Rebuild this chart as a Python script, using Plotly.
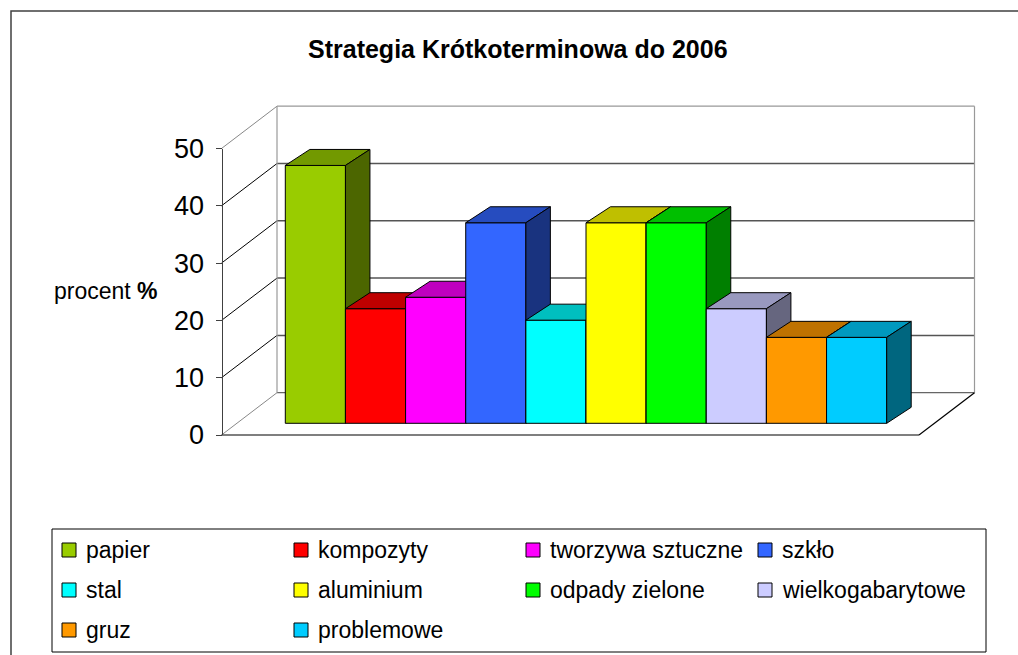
import plotly.graph_objects as go

# ---------------- data ----------------
categories = ["papier", "kompozyty", "tworzywa sztuczne", "szkło", "stal",
              "aluminium", "odpady zielone", "wielkogabarytowe", "gruz", "problemowe"]
values = [45, 20, 22, 35, 18, 35, 35, 20, 15, 15]
colors = ["#99CC00", "#FF0000", "#FF00FF", "#3366FF", "#00FFFF",
          "#FFFF00", "#00FF00", "#CCCCFF", "#FF9900", "#00CCFF"]
y_ticks = [0, 10, 20, 30, 40, 50]
title_text = "Strategia Krótkoterminowa do 2006"
y_label = "procent <b>%</b>"

# ---------------- geometry (pixel layout -> data units) ----------------
W, H = 1018, 655
BAR_LEFT_PX, CAT_PX = 285.3, 60.14      # first bar left edge, px per category
BASE_PX, UNIT_PX = 423.3, 5.73          # bar base line, px per value unit


def X(px):
    return (px - BAR_LEFT_PX) / CAT_PX


def Y(py):
    return (BASE_PX - py) / UNIT_PX


DX, DY = 24.5 / CAT_PX, 16.0 / UNIT_PX  # bar depth offset
FL, BL, FR, BR = X(221.5), X(277), X(919), X(974.5)   # floor corners (x)
F0, B0 = Y(435), Y(392.7)                              # floor front/back level
VMAX = max(y_ticks)
FONT = "Liberation Sans, Arial, sans-serif"


def shade(hexcol, f):
    h = hexcol.lstrip("#")
    r, g, b = (int(h[k:k + 2], 16) for k in (0, 2, 4))
    return "#%02X%02X%02X" % (int(r * f), int(g * f), int(b * f))


fig = go.Figure()

# dummy trace for the front value axis (added first so it sits underneath)
fig.add_trace(go.Scatter(x=[None], y=[None], xaxis="x2", yaxis="y2",
                         showlegend=False, hoverinfo="skip"))

# ---------------- bars (front, top, side faces) ----------------
for i, (name, v, c) in enumerate(zip(categories, values, colors)):
    x0, x1 = i, i + 1
    faces = [
        ([x0, x1, x1, x0, x0], [0, 0, v, v, 0], c),
        ([x0, x1, x1 + DX, x0 + DX, x0], [v, v, v + DY, v + DY, v], shade(c, 0.75)),
        ([x1, x1 + DX, x1 + DX, x1, x1], [0, DY, v + DY, v, 0], shade(c, 0.5)),
    ]
    for fx, fy, fc in faces:
        fig.add_trace(go.Scatter(
            x=fx, y=fy, mode="lines", fill="toself", fillcolor=fc,
            line=dict(color="#000000", width=1), name=name,
            showlegend=False, hoverinfo="skip"))

shapes = []


def line(x0, y0, x1, y1, color, width=1):
    return dict(type="line", x0=x0, y0=y0, x1=x1, y1=y1, xref="x", yref="y",
                line=dict(color=color, width=width), layer="below")


# back wall gridlines and frame, left wall diagonals
for v in y_ticks:
    if v == 0:
        col, wd = "#666666", 1.2
    elif v == VMAX:
        col, wd = "#999999", 1.2
    else:
        col, wd = "#555555", 1.5
    shapes.append(line(BL, B0 + v, BR, B0 + v, col, wd))
    dcol = "#000000" if 0 < v < VMAX else "#888888"
    shapes.append(line(FL, F0 + v, BL, B0 + v, dcol, 1))
shapes.append(line(BL, B0, BL, B0 + VMAX, "#999999", 1.2))
shapes.append(line(BR, B0, BR, B0 + VMAX, "#999999", 1.2))
# floor front and right edges
shapes.append(line(FL, F0, FR, F0, "#000000", 1.2))
shapes.append(line(FR, F0, BR, B0, "#000000", 1.2))

# outer chart border
shapes.append(dict(type="rect", xref="paper", yref="paper",
                   x0=11 / W, y0=1 - 11 / H, x1=1.02, y1=-0.02,
                   line=dict(color="#404040", width=1.5), fillcolor="rgba(0,0,0,0)",
                   layer="above"))

# ---------------- manual legend ----------------
LEG_X0, LEG_X1, LEG_Y0, LEG_Y1 = 52, 986, 529, 652
shapes.append(dict(type="rect", xref="paper", yref="paper",
                   x0=LEG_X0 / W, x1=LEG_X1 / W, y0=1 - LEG_Y0 / H, y1=1 - LEG_Y1 / H,
                   line=dict(color="#000000", width=1), fillcolor="rgba(0,0,0,0)",
                   layer="above"))
annotations = []
COL0, COLW, ROW0, ROWH, SW = 69, 232, 550, 40, 14
for k, (name, c) in enumerate(zip(categories, colors)):
    cx = COL0 + COLW * (k % 4)
    cy = ROW0 + ROWH * (k // 4)
    shapes.append(dict(type="rect", xref="paper", yref="paper",
                       x0=(cx - SW / 2) / W, x1=(cx + SW / 2) / W,
                       y0=1 - (cy - SW / 2) / H, y1=1 - (cy + SW / 2) / H,
                       line=dict(color="#000000", width=1), fillcolor=c, layer="above"))
    annotations.append(dict(xref="paper", yref="paper", x=(cx + SW / 2 + 8) / W,
                            y=1 - cy / H, text=name, showarrow=False,
                            xanchor="left", yanchor="middle",
                            font=dict(family=FONT, size=23, color="#000000")))

# title and axis label
annotations.append(dict(xref="paper", yref="paper", x=517.5 / W, y=1 - 49 / H,
                        text="<b>%s</b>" % title_text, showarrow=False,
                        xanchor="center", yanchor="middle",
                        font=dict(family=FONT, size=25, color="#000000")))
annotations.append(dict(xref="paper", yref="paper", x=52 / W, y=1 - 291 / H,
                        text=y_label, showarrow=False,
                        xanchor="left", yanchor="middle",
                        font=dict(family=FONT, size=23, color="#000000")))

front_bottom_px = BASE_PX - F0 * UNIT_PX
front_top_px = BASE_PX - (F0 + VMAX) * UNIT_PX

fig.update_layout(
    width=W, height=H, margin=dict(l=0, r=0, t=0, b=0, pad=0, autoexpand=False),
    paper_bgcolor="white", plot_bgcolor="rgba(0,0,0,0)",
    showlegend=False,
    xaxis=dict(range=[X(0), X(W)], visible=False, domain=[0, 1], fixedrange=True),
    yaxis=dict(range=[Y(H), Y(0)], visible=False, domain=[0, 1], fixedrange=True),
    xaxis2=dict(domain=[0, 1], range=[0, 1], visible=False, anchor="y2"),
    yaxis2=dict(domain=[1 - front_bottom_px / H, 1 - front_top_px / H],
                range=[0, VMAX], tickvals=y_ticks, anchor="free",
                position=221.5 / W, showline=True, linecolor="#404040", linewidth=1,
                ticks="outside", ticklen=6, tickcolor="#404040", tickwidth=1,
                showgrid=False, zeroline=False, ticklabelstandoff=6,
                tickfont=dict(family=FONT, size=27, color="#000000")),
    shapes=shapes, annotations=annotations,
)

fig.write_html(
    "out.html",
    config={"displayModeBar": False},
    post_script="document.body.style.margin='0';document.body.style.overflow='hidden';"
                "document.documentElement.style.overflow='hidden';",
)
